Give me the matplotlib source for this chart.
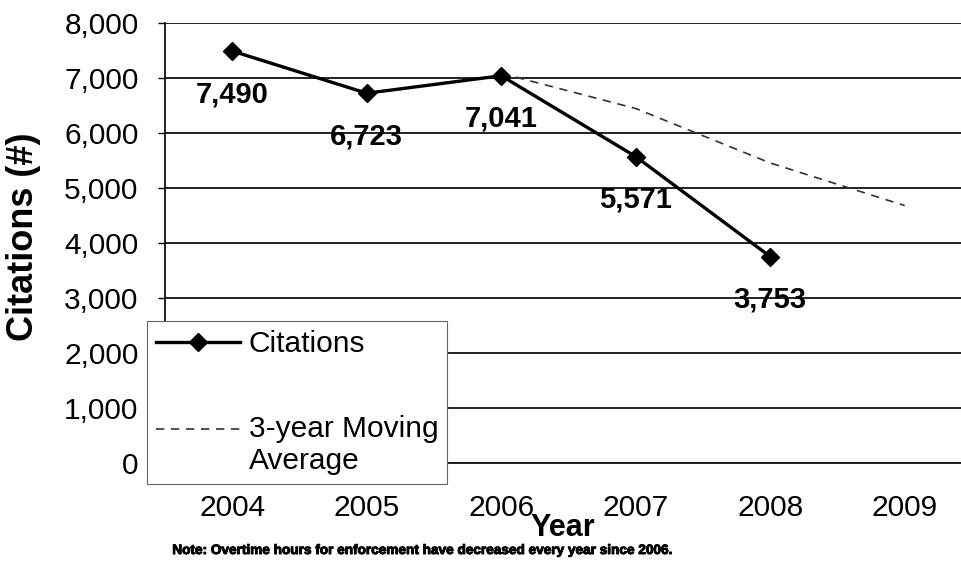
import matplotlib
matplotlib.use('Agg')
import numpy as np
import matplotlib.pyplot as plt
import matplotlib.patheffects as pe
from matplotlib.legend_handler import HandlerLine2D
from matplotlib.ticker import FuncFormatter, MultipleLocator

# ---- data ----
years = ['2004', '2005', '2006', '2007', '2008', '2009']
citation_years = ['2004', '2005', '2006', '2007', '2008']
citations = [7490, 6723, 7041, 5571, 3753]
citation_labels = ['7,490', '6,723', '7,041', '5,571', '3,753']
ma_years = ['2006', '2007', '2008', '2009']
moving_avg = [7085, 6445, 5455, 4680]
note = 'Note: Overtime hours for enforcement have decreased every year since 2006.'

plt.rcParams['font.family'] = ['Liberation Sans', 'DejaVu Sans']

W, H = 962, 577
fig = plt.figure(figsize=(W / 100, H / 100), dpi=100)
ax = fig.add_axes([165 / W, (H - 463) / H, (972 - 165) / W, (463 - 23) / H])

pos = {y: i for i, y in enumerate(years)}
cx = [pos[y] for y in citation_years]
mx = [pos[y] for y in ma_years]

ln1, = ax.plot(cx, citations, color='black', lw=2.4, marker='D', ms=9,
               label='Citations', zorder=4)
ln2, = ax.plot(mx, moving_avg, color='#333333', lw=1.2, dashes=(5, 4),
               label='3-year Moving\nAverage', zorder=3)

for xi, v, t in zip(cx, citations, citation_labels):
    ax.annotate(t, (xi, v), xytext=(0, -31), textcoords='offset points',
                ha='center', va='center', fontsize=21, fontweight='bold', zorder=5)

ax.set_xlim(-0.5, 5.5)
ax.set_ylim(0, 8000)
ax.set_xticks(range(len(years)))
ax.set_xticklabels(years)
ax.yaxis.set_major_locator(MultipleLocator(1000))
ax.yaxis.set_major_formatter(FuncFormatter(lambda v, p: f'{int(v):,}'))
ax.yaxis.grid(True, color='#111111', lw=1.3)
ax.set_axisbelow(True)
for s in ['top', 'right']:
    ax.spines[s].set_visible(False)
ax.spines['left'].set_color('#111111')
ax.spines['left'].set_linewidth(1.3)
ax.spines['bottom'].set_color('#111111')
ax.spines['bottom'].set_linewidth(1.3)
ax.tick_params(axis='y', direction='out', length=5, width=1, pad=14, labelsize=21.5)
ax.tick_params(axis='x', length=0, pad=22, labelsize=21.5)

fig.text(24 / W, 1 - 237 / H, 'Citations (#)', rotation=90, fontsize=26,
         fontweight='bold', ha='center', va='center')
fig.text(563 / W, 1 - 528 / H, 'Year', fontsize=22, fontweight='bold',
         ha='center', va='center')
fig.text(422 / W, 1 - 550 / H, note, family=['Liberation Sans Narrow', 'Liberation Sans'],
         fontweight='bold', fontsize=9.8, ha='center', va='center',
         path_effects=[pe.withStroke(linewidth=0.7, foreground='black')])


class TopAlignedLine(HandlerLine2D):
    """Place the legend handle level with the first line of a 2-line label."""
    def create_artists(self, legend, orig_handle, xdescent, ydescent, width,
                       height, fontsize, trans):
        arts = super().create_artists(legend, orig_handle, xdescent, ydescent,
                                      width, height, fontsize, trans)
        for a in arts:
            a.set_ydata(np.asarray(a.get_ydata()) + 0.55 * fontsize)
        return arts


leg = fig.legend(handles=[ln1, ln2], loc='upper left',
                 bbox_to_anchor=(147 / W, 1 - 321 / H), fontsize=21.5,
                 frameon=True, fancybox=False, edgecolor='#666666', framealpha=1,
                 handlelength=2.8, handletextpad=0.3, labelspacing=1.9,
                 borderpad=0.3, borderaxespad=0,
                 handler_map={ln2: TopAlignedLine()})
leg.get_frame().set_linewidth(0.8)

fig.savefig('out.png', dpi=100)
